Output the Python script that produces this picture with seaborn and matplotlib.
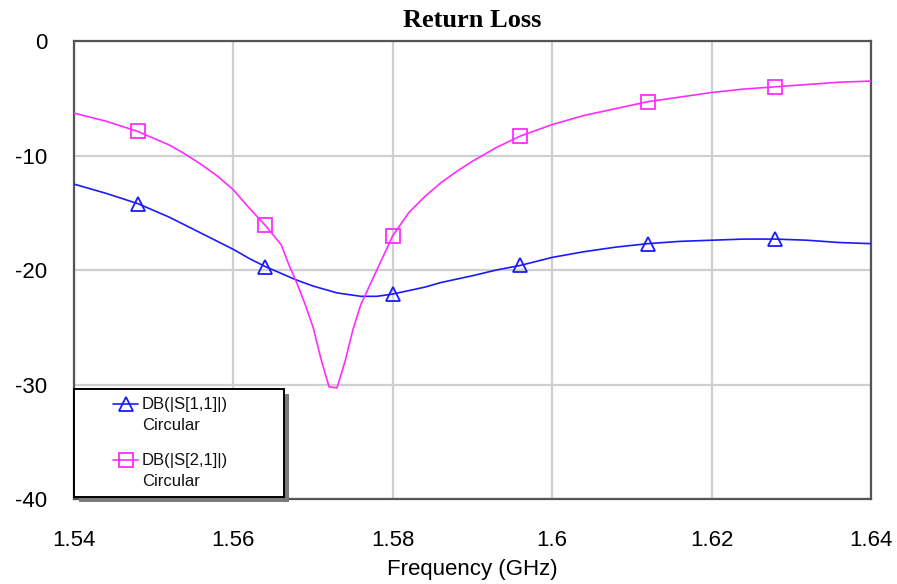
import numpy as np
import pandas as pd
import matplotlib
matplotlib.use("Agg")
import matplotlib.pyplot as plt
from matplotlib.patches import Rectangle
from matplotlib.lines import Line2D
import seaborn as sns

# Frequency sweep (GHz)
freq = [1.540, 1.544, 1.548, 1.552, 1.554, 1.556, 1.558, 1.560, 1.562, 1.564,
        1.566, 1.567, 1.568, 1.569, 1.570, 1.571, 1.572, 1.573, 1.574, 1.575,
        1.576, 1.577, 1.578, 1.580, 1.582, 1.584, 1.586, 1.588, 1.590, 1.593,
        1.596, 1.600, 1.604, 1.608, 1.612, 1.616, 1.620, 1.624, 1.628, 1.632,
        1.636, 1.640]

# DB(|S[1,1]|), circular polarisation
s11_db = [-12.5, -13.3, -14.2, -15.4, -16.1, -16.8, -17.5, -18.2, -19.0, -19.7,
          -20.3, -20.6, -20.9, -21.15, -21.4, -21.6, -21.8, -22.0, -22.1, -22.2,
          -22.3, -22.3, -22.3, -22.1, -21.8, -21.5, -21.1, -20.8, -20.5, -20.0,
          -19.6, -18.9, -18.4, -18.0, -17.7, -17.5, -17.4, -17.3, -17.3, -17.4,
          -17.6, -17.7]

# DB(|S[2,1]|), circular polarisation
s21_db = [-6.3, -7.0, -7.9, -9.1, -9.9, -10.8, -11.8, -13.0, -14.6, -16.1,
          -17.8, -19.6, -21.2, -23.0, -25.0, -27.8, -30.2, -30.3, -28.0, -25.2,
          -23.0, -21.5, -20.0, -17.0, -15.0, -13.6, -12.4, -11.4, -10.5, -9.3,
          -8.3, -7.3, -6.5, -5.9, -5.3, -4.9, -4.5, -4.2, -4.0, -3.8,
          -3.6, -3.5]

# Frequencies that carry a marker symbol
marker_freq = [1.548, 1.564, 1.580, 1.596, 1.612, 1.628]

series_names = ["DB(|S[1,1]|)", "DB(|S[2,1]|)"]
series_sub = ["Circular", "Circular"]
x_ticks = [1.54, 1.56, 1.58, 1.60, 1.62, 1.64]
x_tick_labels = ["1.54", "1.56", "1.58", "1.6", "1.62", "1.64"]
y_ticks = [0, -10, -20, -30, -40]

BLUE = "#1a1aff"
MAGENTA = "#ff2cff"

sns.set_style("white")
plt.rcParams["font.family"] = ["Liberation Sans", "DejaVu Sans"]
plt.rcParams["axes.unicode_minus"] = False
plt.rcParams["text.color"] = "black"
plt.rcParams["axes.labelcolor"] = "black"
plt.rcParams["xtick.color"] = "black"
plt.rcParams["ytick.color"] = "black"

df = pd.DataFrame({
    "freq": freq * 2,
    "db": s11_db + s21_db,
    "trace": [series_names[0]] * len(freq) + [series_names[1]] * len(freq),
})

fig = plt.figure(figsize=(8.97, 5.84), dpi=100)
ax = fig.add_axes([74 / 897, 1 - 499 / 584, (871 - 74) / 897, (499 - 41) / 584])

sns.lineplot(data=df, x="freq", y="db", hue="trace",
             palette={series_names[0]: BLUE, series_names[1]: MAGENTA},
             linewidth=1.2, legend=False, sort=True, ax=ax, zorder=3)

# Marker symbols placed on the traces at the marker frequencies
idx = [freq.index(f) for f in marker_freq]
f_arr = np.array(freq)
ax.plot(f_arr[idx], np.array(s11_db)[idx], linestyle="none", marker="^",
        markersize=10, markerfacecolor="none", markeredgecolor=BLUE,
        markeredgewidth=1.3, zorder=4)
ax.plot(f_arr[idx], np.array(s21_db)[idx], linestyle="none", marker="s",
        markersize=10, markerfacecolor="none", markeredgecolor=MAGENTA,
        markeredgewidth=1.3, zorder=4)

ax.set_xlim(1.54, 1.64)
ax.set_ylim(-40, 0)
ax.set_xticks(x_ticks)
ax.set_xticklabels(x_tick_labels)
ax.set_yticks(y_ticks)
ax.grid(True, color="#cfcfcf", linewidth=1.6, zorder=0)
ax.tick_params(axis="both", length=0, labelsize=16, colors="black")
ax.tick_params(axis="x", pad=22)
ax.tick_params(axis="y", pad=19)
for sp in ax.spines.values():
    sp.set_color("#555555")
    sp.set_linewidth(1.6)

ax.set_xlabel("Frequency (GHz)", fontsize=16, labelpad=6, color="black")
ax.set_ylabel("")
ax.set_title("Return Loss", fontsize=19, fontweight="bold", color="black",
             family=["Liberation Serif", "DejaVu Serif"], pad=10)

# Legend box with drop shadow, lower-left corner of the plot
W = (871 - 74)
H = (499 - 41)
bx0, by0 = 0.0, 2 / H
bw, bh = 210 / W, 108 / H
ax.add_patch(Rectangle((bx0 + 5 / W, by0 - 5 / H), bw, bh, transform=ax.transAxes,
                       facecolor="#7a7a7a", edgecolor="none", zorder=6, clip_on=False))
ax.add_patch(Rectangle((bx0, by0), bw, bh, transform=ax.transAxes,
                       facecolor="white", edgecolor="black", linewidth=1.4,
                       zorder=7, clip_on=False))

entries = [(series_names[0], series_sub[0], BLUE, "^", 404),
           (series_names[1], series_sub[1], MAGENTA, "s", 460)]
for name, sub, col, mk, ypix in entries:
    yf = (499 - ypix) / H
    ax.add_line(Line2D([(113 - 74) / W, (138 - 74) / W], [yf, yf],
                       transform=ax.transAxes, color=col, linewidth=1.2,
                       zorder=8, clip_on=False))
    ax.add_line(Line2D([(126 - 74) / W], [yf], transform=ax.transAxes,
                       marker=mk, markersize=10, markerfacecolor="none",
                       markeredgecolor=col, markeredgewidth=1.3,
                       zorder=8, clip_on=False))
    ax.text((142 - 74) / W, yf, name, transform=ax.transAxes, fontsize=12,
            va="center", ha="left", zorder=9, color="#111111")
    ax.text((142 - 74) / W, (499 - (ypix + 21)) / H, sub, transform=ax.transAxes,
            fontsize=12, va="center", ha="left", zorder=9, color="#111111")

fig.savefig("out.png", dpi=100, facecolor="white")
